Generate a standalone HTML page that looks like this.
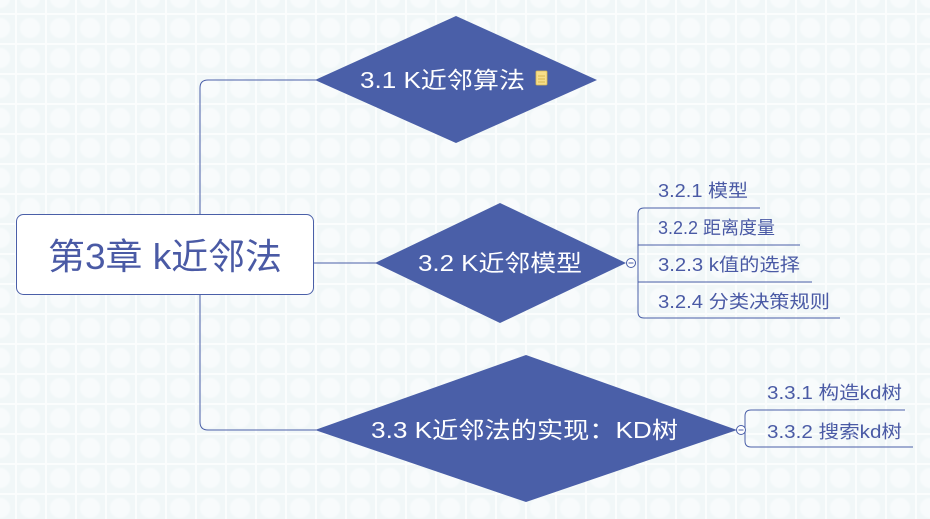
<!DOCTYPE html>
<html><head><meta charset="utf-8"><style>
html,body{margin:0;padding:0;}
body{width:930px;height:519px;overflow:hidden;background-color:#f1f7f8;
background-image:radial-gradient(circle at 15px 15px,#f8fbfc 0,#f8fbfc 9px,#f1f7f8 11px,transparent 12px),linear-gradient(90deg,#fbfdfd 2px,transparent 2px),linear-gradient(#fbfdfd 2px,transparent 2px);
background-size:30px 30px;background-position:15px 13px;font-family:"Liberation Sans","Noto Sans CJK SC",sans-serif;}
svg{position:absolute;left:0;top:0;}
text{font-family:"Liberation Sans","Noto Sans CJK SC",sans-serif;}
</style></head><body>
<svg width="930" height="519" viewBox="0 0 930 519">
<g fill="none" stroke="#4a5fa8" stroke-width="1">
<path d="M200 214 V88 Q200 80 208 80 H316"/>
<path d="M314 263 H376"/>
<path d="M200 295 V422 Q200 430 208 430 H316"/>
<path d="M626 263 H636"/>
<path d="M760 208 H644 Q638 208 638 214 V312 Q638 318 644 318 H840"/>
<path d="M638 245 H800"/>
<path d="M638 282 H812"/>
<path d="M736 430 H742"/>
<path d="M905 410 H751 Q745 410 745 416 V441 Q745 447 751 447 H913"/>
</g>
<rect x="16.5" y="214.5" width="297" height="80" rx="7" fill="#fff" stroke="#4a5fa8"/>
<text x="48" y="269" font-size="36" fill="#4a5aa5" textLength="234" lengthAdjust="spacingAndGlyphs">第3章 k近邻法</text>
<polygon points="315,80 456,16 597,80 456,143" fill="#4a5fa8"/>
<polygon points="375,263 500,203 626,263 500,323" fill="#4a5fa8"/>
<polygon points="315,430 526,355 737,430 526,502" fill="#4a5fa8"/>
<text x="360" y="88" font-size="23" fill="#fff" textLength="165" lengthAdjust="spacingAndGlyphs">3.1 K近邻算法</text>
<rect x="536" y="71" width="11" height="14" rx="1" fill="#f7de8a" stroke="#d9b850" stroke-width="0.8"/>
<line x1="538" y1="76" x2="545" y2="76" stroke="#d9b850"/><line x1="538" y1="79" x2="545" y2="79" stroke="#d9b850"/><line x1="538" y1="82" x2="545" y2="82" stroke="#d9b850"/>
<text x="418" y="271" font-size="23" fill="#fff" textLength="164" lengthAdjust="spacingAndGlyphs">3.2 K近邻模型</text>
<text x="371" y="438" font-size="23" fill="#fff" textLength="307" lengthAdjust="spacingAndGlyphs">3.3 K近邻法的实现：KD树</text>
<circle cx="631" cy="263" r="4.5" fill="#fff" stroke="#4a5fa8"/>
<line x1="628.5" y1="263" x2="633.5" y2="263" stroke="#4a5fa8"/>
<circle cx="741" cy="430" r="4.5" fill="#fff" stroke="#4a5fa8"/>
<line x1="738.5" y1="430" x2="743.5" y2="430" stroke="#4a5fa8"/>
<g font-size="18" fill="#4a5aa5">
<text x="658" y="197" textLength="90" lengthAdjust="spacingAndGlyphs">3.2.1 模型</text>
<text x="658" y="234" textLength="117" lengthAdjust="spacingAndGlyphs">3.2.2 距离度量</text>
<text x="658" y="271" textLength="142" lengthAdjust="spacingAndGlyphs">3.2.3 k值的选择</text>
<text x="658" y="308" textLength="172" lengthAdjust="spacingAndGlyphs">3.2.4 分类决策规则</text>
<text x="767" y="399" textLength="135" lengthAdjust="spacingAndGlyphs">3.3.1 构造kd树</text>
<text x="767" y="438" textLength="135" lengthAdjust="spacingAndGlyphs">3.3.2 搜索kd树</text>
</g>
</svg>
</body></html>
